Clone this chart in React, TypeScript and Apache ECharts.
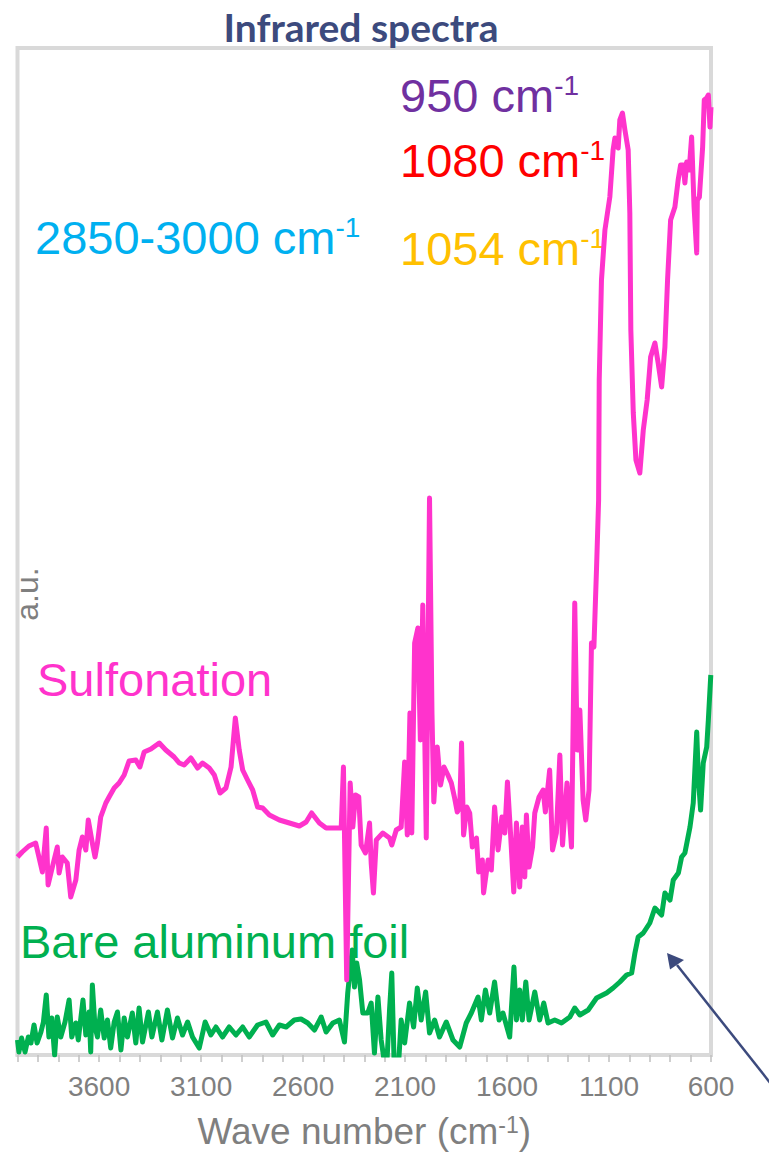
import React, { useEffect, useRef } from 'react';
import * as echarts from 'echarts';

// Sulfonation spectrum: wave number (cm-1) and intensity (a.u.)
const sulfonationWn = [
  4000, 3977, 3944, 3911, 3895, 3878, 3859, 3850, 3829, 3805, 3796, 3780, 3756, 3739, 3714, 3698,
  3682, 3665, 3653, 3636, 3620, 3608, 3592, 3567, 3551, 3526, 3502, 3477, 3453, 3420, 3400, 3379,
  3346, 3305, 3273, 3232, 3207, 3183, 3150, 3117, 3093, 3060, 3035, 3007, 2978, 2953, 2932, 2913,
  2896, 2872, 2847, 2823, 2798, 2765, 2716, 2667, 2618, 2585, 2558, 2520, 2487, 2454, 2413, 2402,
  2386, 2369, 2356, 2343, 2327, 2315, 2294, 2274, 2266, 2255, 2241, 2209, 2176, 2165, 2143, 2119,
  2102, 2089, 2076, 2067, 2053, 2037, 2025, 2013, 1996, 1980, 1968, 1959, 1942, 1926, 1909, 1890,
  1873, 1857, 1844, 1832, 1823, 1813, 1797, 1783, 1770, 1750, 1739, 1721, 1715, 1693, 1677, 1661,
  1644, 1625, 1611, 1598, 1583, 1567, 1554, 1538, 1525, 1513, 1505, 1492, 1475, 1464, 1443, 1423,
  1412, 1391, 1377, 1358, 1341, 1328, 1306, 1284, 1268, 1256, 1243, 1227, 1214, 1198, 1186, 1174,
  1161, 1151, 1148, 1137, 1120, 1096, 1080, 1071, 1055, 1047, 1034, 1022, 1006, 998, 993, 981,
  968, 949, 932, 913, 896, 875, 859, 842, 826, 813, 798, 777, 761, 749, 736, 728,
  719, 707, 695, 683, 670, 667, 657, 641, 633, 621, 613, 605, 600,
];
const sulfonationVal = [
  19.8, 20.3, 20.9, 21.2, 19.8, 18.3, 22.7, 17.0, 18.8, 20.8, 18.2, 19.8, 19.2, 15.8, 17.5, 20.5,
  21.8, 20.5, 23.5, 21.5, 19.8, 21.2, 23.8, 25.2, 25.8, 26.7, 27.2, 28.0, 29.4, 29.5, 28.8, 30.3,
  30.6, 31.2, 30.5, 29.8, 29.2, 29.0, 29.7, 28.7, 29.2, 28.7, 28.0, 26.2, 26.7, 28.8, 33.7, 30.5,
  28.5, 27.5, 26.5, 24.8, 24.7, 24.0, 23.5, 23.2, 22.9, 23.3, 24.2, 23.2, 22.7, 22.7, 22.7, 28.8,
  7.5, 27.2, 22.8, 26.0, 25.8, 21.0, 20.2, 23.2, 19.2, 16.2, 21.5, 22.2, 21.7, 21.0, 22.5, 22.8,
  29.3, 22.0, 34.2, 22.2, 41.2, 42.7, 31.5, 45.0, 21.7, 55.7, 34.2, 25.3, 30.8, 27.0, 28.8, 28.0,
  27.2, 25.7, 24.3, 24.7, 31.2, 22.0, 24.8, 24.2, 20.8, 21.7, 18.3, 19.5, 16.2, 19.5, 18.5, 24.8,
  20.5, 23.8, 22.2, 27.3, 22.2, 16.3, 23.2, 16.8, 22.8, 17.8, 24.0, 18.8, 20.8, 24.2, 25.8, 26.5,
  24.3, 28.5, 20.5, 22.2, 30.0, 21.0, 27.2, 20.8, 45.2, 30.5, 34.5, 25.5, 23.5, 26.5, 41.2, 40.8,
  48.8, 55.5, 67.5, 77.5, 82.5, 85.8, 90.5, 91.7, 90.7, 93.5, 94.2, 92.5, 90.5, 84.2, 72.5, 64.2,
  59.5, 58.2, 62.5, 65.5, 69.8, 71.2, 69.2, 66.8, 70.8, 77.5, 83.5, 84.8, 87.5, 89.0, 89.0, 87.2,
  89.3, 88.5, 91.8, 84.8, 80.2, 85.5, 85.8, 90.8, 95.5, 95.7, 96.0, 92.8, 94.8,
];

// Bare aluminum foil spectrum
const bareWn = [
  4000, 3993, 3980, 3963, 3947, 3934, 3919, 3904, 3885, 3873, 3859, 3846, 3832, 3818, 3805, 3788,
  3767, 3747, 3734, 3714, 3702, 3679, 3665, 3649, 3641, 3633, 3620, 3608, 3592, 3575, 3559, 3543,
  3526, 3510, 3493, 3477, 3461, 3437, 3420, 3404, 3387, 3358, 3341, 3314, 3292, 3265, 3240, 3216,
  3191, 3166, 3142, 3109, 3080, 3052, 3027, 2995, 2962, 2929, 2896, 2864, 2823, 2782, 2749, 2716,
  2683, 2643, 2610, 2577, 2544, 2511, 2487, 2454, 2422, 2397, 2381, 2359, 2348, 2337, 2323, 2307,
  2283, 2266, 2250, 2233, 2217, 2192, 2176, 2165, 2152, 2135, 2119, 2102, 2078, 2058, 2040, 2021,
  1999, 1980, 1955, 1931, 1898, 1865, 1832, 1800, 1775, 1742, 1726, 1706, 1685, 1661, 1639, 1620,
  1587, 1579, 1566, 1554, 1538, 1525, 1508, 1492, 1464, 1440, 1420, 1399, 1366, 1333, 1292, 1268,
  1243, 1202, 1161, 1112, 1080, 1047, 1014, 989, 973, 957, 932, 900, 875, 842, 826, 801,
  785, 760, 744, 728, 703, 687, 670, 662, 651, 638, 621, 613, 601,
];
const bareVal = [
  1.5, 0.3, 1.7, 0.3, 1.8, 1.2, 3.0, 1.2, 2.3, 3.3, 6.0, 1.8, 3.7, 0.0, 3.8, 1.8,
  3.3, 5.5, 1.8, 3.2, 1.5, 5.5, 2.0, 4.3, 0.3, 7.0, 2.8, 1.8, 4.5, 1.7, 3.5, 0.7,
  3.3, 4.3, 0.5, 3.7, 1.8, 4.2, 1.2, 4.7, 1.3, 4.3, 1.8, 4.3, 1.5, 4.5, 1.7, 3.7,
  2.0, 3.3, 1.8, 0.7, 3.3, 2.0, 2.8, 1.8, 2.8, 2.0, 2.8, 1.8, 3.0, 3.3, 2.0, 3.0,
  2.8, 3.5, 3.6, 3.2, 2.5, 3.8, 2.3, 3.2, 3.5, 1.3, 6.2, 10.5, 6.8, 9.2, 7.5, 4.2,
  4.2, 5.2, 0.2, 5.8, 1.5, -2.0, 4.5, 8.2, -2.0, -2.0, 3.5, 1.2, 5.2, 2.8, 6.7, 3.5,
  6.3, 2.2, 3.5, 1.8, 3.3, 1.5, 0.8, 3.2, 4.2, 5.8, 3.5, 6.5, 4.2, 7.3, 3.5, 4.2,
  1.8, 4.5, 8.8, 3.5, 6.5, 3.5, 7.3, 3.5, 6.3, 3.5, 5.2, 3.2, 3.5, 3.2, 3.8, 4.7,
  4.0, 4.5, 5.7, 6.2, 6.7, 7.3, 8.0, 8.2, 10.2, 11.8, 12.2, 13.2, 14.7, 14.0, 16.2, 15.5,
  17.5, 18.2, 19.8, 20.2, 22.8, 25.2, 32.3, 27.8, 24.5, 29.2, 30.8, 33.5, 38.0,
];

const tickLabels = [600, 1100, 1600, 2100, 2600, 3100, 3600];

const zip = (xs: number[], ys: number[]) => xs.map((x, i) => [x, ys[i]]);

const FONT = 'Liberation Sans, Arial, sans-serif';
const AXIS_GRAY = '#7f7f7f';

function supText(main: string, color: string, x: number, y: number) {
  return {
    type: 'text',
    x,
    y,
    style: {
      text: `{m|${main}}{s|-1}`,
      align: 'left',
      verticalAlign: 'middle',
      fill: color,
      fontFamily: FONT,
      fontSize: 47,
      rich: {
        m: { fontSize: 47, fontFamily: FONT, fill: color },
        s: { fontSize: 28, fontFamily: FONT, fill: color, verticalAlign: 'top' },
      },
    },
  };
}

export default function App() {
  const ref = useRef<HTMLDivElement>(null);
  useEffect(() => {
    const chart = echarts.init(ref.current!, null, { renderer: 'svg' });
    chart.setOption({
      animation: false,
      backgroundColor: '#ffffff',
      grid: {
        left: 17.5,
        right: 58,
        top: 48,
        bottom: 105,
        show: true,
        borderColor: '#d9d9d9',
        borderWidth: 4,
      },
      xAxis: {
        type: 'value',
        inverse: true,
        min: 600,
        max: 4000,
        interval: 100,
        axisLine: { show: true, lineStyle: { color: '#d9d9d9', width: 4 } },
        axisTick: { show: true, length: 7, lineStyle: { color: '#bfbfbf', width: 1.5 } },
        axisLabel: {
          formatter: (v: number) => (tickLabels.includes(v) ? String(v) : ''),
          fontSize: 28,
          fontFamily: FONT,
          color: AXIS_GRAY,
          margin: 17,
        },
        splitLine: { show: false },
        name: '{n|Wave number (cm}{s|-1}{n|)}',
        nameLocation: 'middle',
        nameGap: 58,
        nameTextStyle: {
          fontFamily: FONT,
          fontSize: 37,
          color: AXIS_GRAY,
          rich: {
            n: { fontSize: 37, fontFamily: FONT, color: AXIS_GRAY },
            s: { fontSize: 23, fontFamily: FONT, color: AXIS_GRAY, verticalAlign: 'top' },
          },
        },
      },
      yAxis: {
        type: 'value',
        min: 0,
        max: 100.7,
        axisLine: { show: false },
        axisTick: { show: false },
        axisLabel: { show: false },
        splitLine: { show: false },
      },
      graphic: [
        {
          type: 'text',
          x: 361,
          y: 27,
          style: {
            text: 'Infrared spectra',
            align: 'center',
            verticalAlign: 'middle',
            fill: '#3C4A7D',
            fontFamily: 'Lato, sans-serif',
            fontWeight: 'bold',
            fontSize: 39,
          },
        },
        {
          type: 'text',
          x: 27,
          y: 594,
          rotation: Math.PI / 2,
          style: {
            text: 'a.u.',
            align: 'center',
            verticalAlign: 'middle',
            fill: AXIS_GRAY,
            fontFamily: FONT,
            fontSize: 32,
          },
        },
        supText('950 cm', '#7030A0', 400, 95),
        supText('1080 cm', '#FF0000', 400, 160),
        supText('2850-3000 cm', '#00B0F0', 35, 237),
        supText('1054 cm', '#FFC000', 400, 248),
        {
          type: 'text',
          x: 37,
          y: 679,
          style: {
            text: 'Sulfonation',
            align: 'left',
            verticalAlign: 'middle',
            fill: '#FF33CC',
            fontFamily: FONT,
            fontSize: 47,
          },
        },
        {
          type: 'text',
          x: 20,
          y: 941,
          style: {
            text: 'Bare aluminum foil',
            align: 'left',
            verticalAlign: 'middle',
            fill: '#00B050',
            fontFamily: FONT,
            fontSize: 47,
          },
        },
        {
          type: 'line',
          shape: { x1: 677, y1: 965, x2: 775, y2: 1089 },
          style: { stroke: '#3C4A7D', lineWidth: 2.5 },
        },
        {
          type: 'polygon',
          shape: { points: [[667, 953], [670, 969.5], [684, 960]] },
          style: { fill: '#3C4A7D' },
        },
      ],
      series: [
        {
          name: 'Bare aluminum foil',
          type: 'line',
          data: zip(bareWn, bareVal),
          symbol: 'none',
          clip: true,
          lineStyle: { color: '#00B050', width: 5, join: 'round' },
          z: 3,
        },
        {
          name: 'Sulfonation',
          type: 'line',
          data: zip(sulfonationWn, sulfonationVal),
          symbol: 'none',
          clip: true,
          lineStyle: { color: '#FF33CC', width: 5, join: 'round' },
          z: 4,
        },
      ],
    });
    return () => chart.dispose();
  }, []);
  return (
    <div
      ref={ref}
      style={{ position: 'fixed', left: 0, top: 0, width: 769, height: 1160, background: '#fff' }}
    />
  );
}
